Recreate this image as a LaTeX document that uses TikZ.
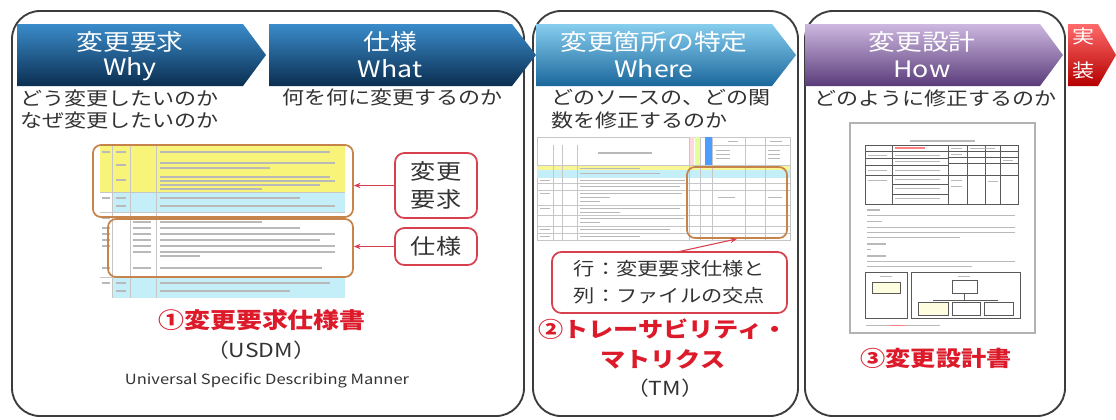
\documentclass[tikz,border=0pt]{standalone}
\usepackage{fontspec}
\setmainfont{Noto Sans CJK JP}[FakeStretch=1.18]
\usetikzlibrary{arrows.meta}
\definecolor{panelc}{HTML}{3C3C3C}
\definecolor{bodyc}{HTML}{333333}
\definecolor{redc}{HTML}{DC1A2A}
\definecolor{rboxc}{HTML}{D8404E}
\definecolor{orangec}{HTML}{C6844A}
\definecolor{yellowc}{HTML}{F8F47A}
\definecolor{cyanc}{HTML}{C4EEF8}
\definecolor{whyT}{HTML}{3A8CCB}
\definecolor{whyM}{HTML}{16568A}
\definecolor{whyB}{HTML}{0B2E50}
\definecolor{whereT}{HTML}{86CDEE}
\definecolor{whereM}{HTML}{3D9ED2}
\definecolor{whereB}{HTML}{1B679C}
\definecolor{howT}{HTML}{CDB8E0}
\definecolor{howM}{HTML}{9C80BC}
\definecolor{howB}{HTML}{5A3C7A}
\definecolor{implT}{HTML}{FF6A6A}
\definecolor{implB}{HTML}{B50000}
\begin{document}
\begin{tikzpicture}[x=0.75pt,y=-0.75pt,
  panel/.style={draw=panelc, line width=1.4pt, rounded corners=21pt},
  body/.style={font=\fontsize{14}{16}\selectfont, text=bodyc, anchor=west, inner sep=0pt},
  chev/.style={font=\fontsize{17}{19}\selectfont, text=white, inner sep=0pt},
  redlabel/.style={font=\bfseries\fontsize{16}{19}\selectfont, text=redc, inner sep=0pt},
  graylabel/.style={font=\fontsize{14.5}{16}\selectfont, text=bodyc, inner sep=0pt},
  txtbar/.style={draw=gray!55, line width=0.9pt},
  gridl/.style={draw=gray!45, line width=0.4pt},
  gridk/.style={draw=black!65, line width=0.5pt},
  obox/.style={draw=orangec, line width=1.3pt, rounded corners=6pt, inner sep=0pt},
  rbox/.style={draw=rboxc, line width=1.3pt, rounded corners=7pt, fill=white, align=center, inner sep=0pt, text=bodyc},
  redarr/.style={draw=rboxc, line width=0.8pt, -{Stealth[length=5pt,width=4pt]}}
]
\useasboundingbox (0,0) rectangle (1116,419);
\fill[white] (0,0) rectangle (1116,419);

% ---------------- panels
\draw[panel] (12,11) rectangle (524,416);
\draw[panel] (533,11) rectangle (798,416);
\draw[panel] (805,11) rectangle (1065,416);

% ---------------- chevrons
\shade[top color=whyT, middle color=whyM, bottom color=whyB] (17,24) -- (243,24) -- (266,55) -- (243,86) -- (17,86) -- cycle;
\shade[top color=whyT, middle color=whyM, bottom color=whyB] (269,24) -- (512,24) -- (536,55) -- (512,86) -- (269,86) -- cycle;
\shade[top color=whereT, middle color=whereM, bottom color=whereB] (536,24) -- (772,24) -- (796,55) -- (772,86) -- (536,86) -- cycle;
\shade[top color=howT, middle color=howM, bottom color=howB] (805,24) -- (1040,24) -- (1063,55) -- (1040,86) -- (805,86) -- cycle;
\shade[top color=implT, bottom color=implB] (1068,24) -- (1098,24) -- (1116,55) -- (1098,86) -- (1068,86) -- cycle;

\node[chev] (whyjp) at (130,42) {変更要求};
\node[chev] (whyen) at (130,69) {Why};
\node[chev] (whatjp) at (390,42) {仕様};
\node[chev] (whaten) at (390,69) {What};
\node[chev] (wherejp) at (654,42) {変更箇所の特定};
\node[chev] (whereen) at (654,69) {Where};
\node[chev] (howjp) at (922,42) {変更設計};
\node[chev] (howen) at (922,69) {How};
\node[chev, font=\fontsize{14}{16}\selectfont] (impl1) at (1083,36) {実};
\node[chev, font=\fontsize{14}{16}\selectfont] (impl2) at (1083,70) {装};

% ---------------- body texts
\node[body] (t1a) at (20,98) {どう変更したいのか};
\node[body] (t1b) at (20,120) {なぜ変更したいのか};
\node[body] (t2a) at (282,97) {何を何に変更するのか};
\node[body] (t3a) at (551,98) {どのソースの、どの関};
\node[body] (t3b) at (551,120) {数を修正するのか};
\node[body] (t4a) at (814,98) {どのように修正するのか};

% ---------------- panel 1 : USDM sheet
\fill[yellowc] (100,145) rectangle (345,192);
\fill[cyanc] (113,192) rectangle (345,212);
\fill[cyanc] (113,277) rectangle (345,298);
\foreach \x in {112,130,156} \draw[gridl] (\x,145) -- (\x,298);
\foreach \y in {192,212,277} \draw[gridl] (100,\y) -- (345,\y);
\foreach \y/\e in {152/330,163/335,168/270,177/330,181/335,185/320,189/262,
                   198/300,206/335,218/312,222/262,228/300,234/335,240/320,246/335,252/335,256/200,268/322,283/330,291/290}
  \draw[txtbar] (160,\y) -- (\e,\y);
\foreach \y in {152,165,180,198,206,283,291} \draw[txtbar] (116,\y) -- (126,\y);
\foreach \y in {218,222,228,234,240,246,252,268} \draw[txtbar] (133,\y) -- (151,\y);
\foreach \y in {152,198,218,228,234,240,246,268,283} \draw[txtbar] (102,\y) -- (110,\y);

\node[obox, minimum width=195pt, minimum height=54pt] (ob1) at (223,181) {};
\node[obox, minimum width=183.75pt, minimum height=43.5pt] (ob2) at (230.5,248) {};
\node[rbox, minimum width=61.5pt, minimum height=48.75pt, font=\fontsize{16}{21}\selectfont] (rq) at (436,185.5) {変更\\要求};
\node[rbox, minimum width=61.5pt, minimum height=27.75pt, font=\fontsize{16}{19}\selectfont] (sp) at (436,246.5) {仕様};
\draw[redarr] (rq.west) -- (rq.west -| ob1.east);
\draw[redarr] (sp.west) -- (sp.west -| ob2.east);

\node[redlabel, font=\bfseries\fontsize{16.5}{20}\selectfont] (usdm1) at (262,320) {①変更要求仕様書};
\node[graylabel] (usdm2) at (261,350) {（USDM）};
\node[graylabel, font=\fontsize{10.5}{12}\selectfont] (usdm3) at (267,381) {Universal Specific Describing Manner};

% ---------------- panel 2 : TM sheet
\draw[gridl] (537,137) rectangle (790,240);
\draw[txtbar] (598,153) -- (652,153);
\fill[pink!60] (689,137) rectangle (694,165);
\fill[green!25!yellow!40] (695,137) rectangle (701,165);
\fill[blue!55!cyan!70] (705,137) rectangle (712,165);
\fill[yellowc!80] (537,165) rectangle (790,170);
\fill[cyanc] (537,170) rectangle (790,178);
\foreach \x in {553,562,577} \draw[gridl] (\x,145) -- (\x,240);
\foreach \x in {689,700,712,745,765} \draw[gridl] (\x,137) -- (\x,240);
\foreach \y in {165,183,190,205,215,226,233} \draw[gridl] (537,\y) -- (790,\y);
\draw[gridl] (712,145) -- (790,145);
\foreach \y/\e in {168/640,173/660,180/685,186/680,193/682,197/610,201/600,208/680,212/620,218/684,222/600,229/670,236/640}
  \draw[txtbar, line width=0.7pt] (580,\y) -- (\e,\y);
\foreach \y in {180,193,208,229,236} \draw[txtbar, line width=0.7pt] (540,\y) -- (550,\y);
\foreach \y in {150,154,158} {\draw[txtbar, line width=0.5pt] (716,\y) -- (730,\y); \draw[txtbar, line width=0.5pt] (768,\y) -- (780,\y);}
\draw[txtbar, line width=0.6pt] (728,141) -- (738,141);
\draw[txtbar, line width=0.6pt] (770,141) -- (782,141);
\draw[txtbar, line width=0.6pt] (718,197) -- (735,197);
\draw[txtbar, line width=0.6pt] (768,197) -- (782,197);

\node[obox, minimum width=75pt, minimum height=53.25pt] (ob3) at (737,202.5) {};
\node[rbox, minimum width=176.25pt, minimum height=45.75pt, font=\fontsize{13.5}{20}\selectfont] (tmbox) at (669.5,282.5) {行：変更要求仕様と\\列：ファイルの交点};
\coordinate (a2s) at (677,252);
\draw[redarr] (a2s) -- (ob3.south);

\node[redlabel] (tm1) at (663,329) {②トレーサビリティ・};
\node[redlabel] (tm2) at (663,359) {マトリクス};
\node[graylabel] (tm3) at (665,388) {（TM）};

% ---------------- panel 3 : design document
\draw[draw=gray!60, line width=1pt, fill=white] (850,123) rectangle (1035,333);
\draw[txtbar, line width=1.3pt] (910,141) -- (975,141);
\draw[gridk] (865,145) rectangle (1018,204);
\foreach \x in {892,948,967,1000} \draw[gridk] (\x,145) -- (\x,204);
\draw[gridk] (985,145) -- (985,204);
\draw[gridk] (865,151) -- (1018,151);
\draw[gridk] (865,158) -- (948,158);
\draw[gridk] (948,157) -- (1018,157);
\draw[gridk] (865,165) -- (948,165);
\draw[gridk] (948,163) -- (1018,163);
\draw[gridk] (865,175) -- (1018,175);
\draw[gridk] (892,184) -- (948,184);
\draw[gridk] (892,194) -- (948,194);
\draw[draw=red!50, line width=0.8pt] (895,148) -- (925,148);
\foreach \y in {155,161,170,179,188,198} \draw[txtbar, line width=0.6pt] (895,\y) -- (940,\y);
\foreach \y in {155,170,180} \draw[txtbar, line width=0.6pt] (868,\y) -- (887,\y);
\foreach \y in {148,154,180,186} \draw[txtbar, line width=0.6pt] (951,\y) -- (962,\y);
\draw[txtbar, line width=0.6pt] (970,148) -- (995,148);
\draw[txtbar, line width=0.6pt] (988,181) -- (998,181);
\draw[txtbar, line width=0.6pt] (1003,160) -- (1013,160);
% paragraphs
\draw[txtbar, line width=1.2pt] (867,210) -- (880,210);
\foreach \y/\e in {215/1015,221/882,227/1015,232/1015,237/960} \draw[txtbar, line width=0.7pt] (867,\y) -- (\e,\y);
\draw[txtbar, line width=1.2pt] (867,244) -- (886,244);
\draw[txtbar, line width=0.7pt] (867,249) -- (871,249);
\draw[txtbar, line width=1.2pt] (867,256) -- (886,256);
\foreach \y/\e in {261/1015,266/972} \draw[txtbar, line width=0.7pt] (867,\y) -- (\e,\y);
% diagram
\draw[gridk] (865,272) rectangle (907,318);
\draw[gridk, fill=yellow!12] (872,282) rectangle (900,293);
\draw[gridk] (911,272) rectangle (1020,318);
\draw[gridk] (952,280) rectangle (977,293);
\draw[gridk] (964,293) -- (964,300);
\draw[gridk] (933,300) -- (998,300);
\draw[gridk, fill=yellow!12] (918,302) rectangle (948,315);
\draw[gridk] (952,302) rectangle (980,315);
\draw[gridk] (984,302) rectangle (1013,315);
\draw[txtbar, line width=0.6pt] (880,276) -- (892,276);
\draw[txtbar, line width=0.6pt] (958,276) -- (970,276);
\draw[txtbar, line width=0.5pt] (866,325) -- (940,325);
\draw[draw=red!50, line width=0.6pt] (890,325) -- (905,325);

\node[redlabel] (dd) at (936,358) {③変更設計書};
\end{tikzpicture}
\end{document}
